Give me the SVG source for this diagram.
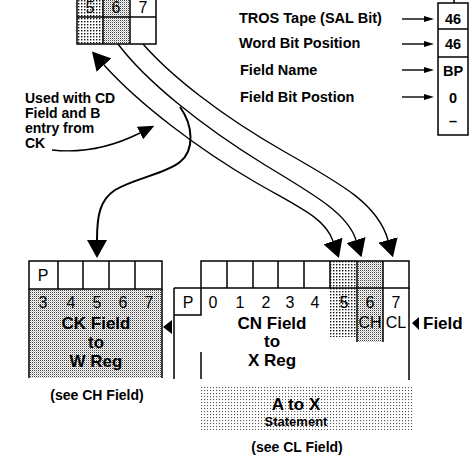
<svg xmlns="http://www.w3.org/2000/svg" width="474" height="465" viewBox="0 0 474 465">
<style>
  .ln{fill:none;stroke:#000;stroke-width:1.5}
  .cv{fill:none;stroke:#000;stroke-width:1.4}
  .tb{font-family:"Liberation Sans",Arial,sans-serif;font-weight:bold;fill:#000}
  .tr{font-family:"Liberation Sans",Arial,sans-serif;font-weight:normal;fill:#000}
  .lg{font-size:14.5px}
  .big{font-size:17px;text-anchor:middle}
  .dig{font-size:16px;text-anchor:middle}
  .mid{text-anchor:middle}
</style>
<defs>
  <pattern id="coarse" width="3" height="3" patternUnits="userSpaceOnUse"><rect width="3" height="3" fill="#fff"/><rect width="1.4" height="1.4" fill="#111"/></pattern>
  <pattern id="fine" width="2" height="2" patternUnits="userSpaceOnUse"><rect width="2" height="2" fill="#fff"/><rect width="1" height="1" fill="#444"/><rect x="1" y="1" width="1" height="1" fill="#c4c4c4"/></pattern>
  <pattern id="sparse" width="3" height="3" patternUnits="userSpaceOnUse"><rect width="3" height="3" fill="#fff"/><rect width="1.1" height="1.1" fill="#555"/></pattern>
  <marker id="ah" viewBox="0 0 18 20" refX="0" refY="10" markerWidth="18" markerHeight="20" markerUnits="userSpaceOnUse" orient="auto-start-reverse"><path d="M0,0 L18,10 L0,20 z" fill="#000"/></marker>
  <marker id="ahm" viewBox="0 0 16 14" refX="0" refY="7" markerWidth="16" markerHeight="14" markerUnits="userSpaceOnUse" orient="auto"><path d="M0,0 L16,7 L0,14 z" fill="#000"/></marker>
  <marker id="ahs" viewBox="0 0 10 6" refX="0" refY="3" markerWidth="10" markerHeight="6" markerUnits="userSpaceOnUse" orient="auto"><path d="M0,0 L10,3 L0,6 z" fill="#000"/></marker>
</defs>

<g id="source-word">
  <rect x="77" y="-10" width="26" height="54" fill="url(#coarse)"/>
  <rect x="103" y="-10" width="27" height="54" fill="url(#fine)"/>
  <rect x="77" y="-10" width="79" height="54" class="ln"/>
  <line x1="77" y1="17" x2="156" y2="17" class="ln"/>
  <line x1="103" y1="-10" x2="103" y2="44" class="ln"/>
  <line x1="130" y1="-10" x2="130" y2="44" class="ln"/>
  <text x="90" y="13" class="tr dig" font-size="14">5</text>
  <text x="116" y="13" class="tr dig" font-size="14">6</text>
  <text x="143" y="13" class="tr dig" font-size="14">7</text>
</g>

<g id="legend">
  <text x="239" y="23" class="tb lg">TROS Tape (SAL Bit)</text>
  <text x="239" y="48" class="tb lg">Word Bit Position</text>
  <text x="240" y="75" class="tb lg">Field Name</text>
  <text x="240" y="102" class="tb lg">Field Bit Postion</text>
  <rect x="438" y="3" width="30" height="132" class="ln"/>
  <line x1="438" y1="29" x2="468" y2="29" class="ln"/>
  <line x1="438" y1="57" x2="468" y2="57" class="ln"/>
  <line x1="454" y1="0" x2="454" y2="3" class="ln"/>
  <text x="453" y="24" class="tb lg mid">46</text>
  <text x="453" y="49" class="tb lg mid">46</text>
  <text x="453" y="76" class="tb lg mid">BP</text>
  <text x="453" y="103" class="tb lg mid">0</text>
  <text x="453" y="126" class="tb lg mid">–</text>
</g>

<g id="note">
  <text class="tb" font-size="14" x="25" y="103">Used with CD</text>
  <text class="tb" font-size="14" x="25" y="118">Field and B</text>
  <text class="tb" font-size="14" x="25" y="133">entry from</text>
  <text class="tb" font-size="14" x="25" y="148">CK</text>
</g>

<g id="ck-field">
  <rect x="29" y="289" width="133" height="89" fill="url(#fine)"/>
  <line x1="29" y1="289" x2="29" y2="378" class="ln"/>
  <line x1="162" y1="289" x2="162" y2="378" class="ln"/>
  <rect x="29" y="261" width="133" height="28" class="ln"/>
  <line x1="58" y1="261" x2="58" y2="289" class="ln"/>
  <line x1="83" y1="261" x2="83" y2="289" class="ln"/>
  <line x1="109" y1="261" x2="109" y2="289" class="ln"/>
  <line x1="135" y1="261" x2="135" y2="289" class="ln"/>
  <text x="43" y="281" class="tr dig">P</text>
  <text x="43" y="308" class="tr dig">3</text>
  <text x="71" y="308" class="tr dig">4</text>
  <text x="97" y="308" class="tr dig">5</text>
  <text x="123" y="308" class="tr dig">6</text>
  <text x="149" y="308" class="tr dig">7</text>
  <text x="96" y="329" class="tb big">CK Field</text>
  <text x="96" y="348" class="tb big">to</text>
  <text x="96" y="367" class="tb big">W Reg</text>
  <text x="97" y="400" class="tb mid" font-size="14">(see CH Field)</text>
  <path d="M163,327 L172,320 L172,334 z" fill="#000"/>
</g>

<g id="cn-field">
  <rect x="330" y="261" width="27" height="76" fill="url(#coarse)"/>
  <rect x="357" y="261" width="26" height="81" fill="url(#fine)"/>
  <rect x="201" y="261" width="208" height="27" class="ln"/>
  <line x1="227" y1="261" x2="227" y2="288" class="ln"/>
  <line x1="253" y1="261" x2="253" y2="288" class="ln"/>
  <line x1="278" y1="261" x2="278" y2="288" class="ln"/>
  <line x1="304" y1="261" x2="304" y2="288" class="ln"/>
  <line x1="330" y1="261" x2="330" y2="288" class="ln"/>
  <line x1="357" y1="261" x2="357" y2="342" class="ln"/>
  <line x1="383" y1="261" x2="383" y2="342" class="ln"/>
  <line x1="174" y1="288" x2="201" y2="288" class="ln"/>
  <line x1="174" y1="288" x2="174" y2="379" class="ln"/>
  <line x1="409" y1="288" x2="409" y2="380" class="ln"/>
  <polyline points="174,315 201,315 201,288" class="ln"/>
  <line x1="201" y1="352" x2="201" y2="379" class="ln"/>
  <text x="188" y="308" class="tr dig">P</text>
  <text x="213" y="308" class="tr dig">0</text>
  <text x="240" y="308" class="tr dig">1</text>
  <text x="266" y="308" class="tr dig">2</text>
  <text x="290" y="308" class="tr dig">3</text>
  <text x="315" y="308" class="tr dig">4</text>
  <text x="344" y="308" class="tr dig">5</text>
  <text x="370" y="308" class="tr dig">6</text>
  <text x="396" y="308" class="tr dig">7</text>
  <text x="370" y="328" class="tr dig" font-size="15">CH</text>
  <text x="396" y="328" class="tr dig" font-size="15">CL</text>
  <text x="272" y="329" class="tb big">CN Field</text>
  <text x="272" y="347" class="tb big">to</text>
  <text x="272" y="366" class="tb big">X Reg</text>
  <path d="M412,323 L419,317 L419,330 z" fill="#000"/>
  <text x="423" y="329" class="tb" font-size="17">Field</text>
</g>

<g id="statement">
  <rect x="200" y="385" width="212" height="45" fill="url(#sparse)"/>
  <text x="296" y="410" class="tb big">A to X</text>
  <text x="296" y="426" class="tb mid" font-size="13">Statement</text>
  <text x="297" y="452" class="tb mid" font-size="14">(see CL Field)</text>
</g>

<g id="connectors">
  <path d="M104,65 C140,105 200,150 255,182 C300,208 325,218 333,241" class="cv" marker-start="url(#ah)" marker-end="url(#ah)"/>
  <path d="M118,44 C145,80 200,125 265,165 C320,198 348,215 356,240" class="cv" marker-end="url(#ah)"/>
  <path d="M143,44 C170,75 220,115 285,152 C345,186 378,205 388,240" class="cv" marker-end="url(#ah)"/>
  <path d="M180,107 C193,125 195,150 180,162 C165,174 135,178 115,190 C100,200 97,215 97,240" fill="none" stroke="#000" stroke-width="2" marker-end="url(#ah)"/>
  <path d="M52,150 C80,153 110,148 140,133" class="cv" marker-end="url(#ahm)"/>
  <line x1="402" y1="19" x2="424" y2="19" class="cv" marker-end="url(#ahs)"/>
  <line x1="402" y1="44" x2="424" y2="44" class="cv" marker-end="url(#ahs)"/>
  <line x1="402" y1="70" x2="424" y2="70" class="cv" marker-end="url(#ahs)"/>
  <line x1="402" y1="97" x2="424" y2="97" class="cv" marker-end="url(#ahs)"/>
</g>
</svg>
